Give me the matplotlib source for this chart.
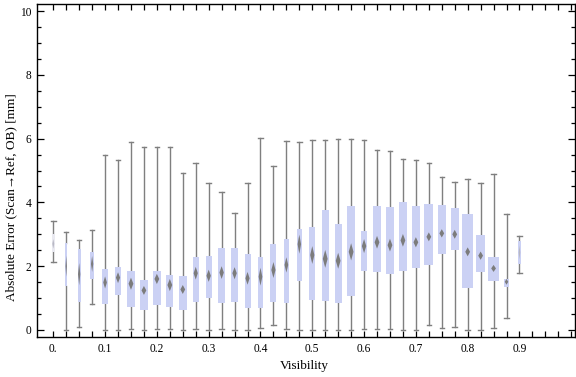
import matplotlib
matplotlib.use("Agg")
import matplotlib.pyplot as plt
import numpy as np

# ---- data ----
visibility = [0.0, 0.025, 0.05, 0.075, 0.1, 0.125, 0.15, 0.175, 0.2, 0.225,
              0.25, 0.275, 0.3, 0.325, 0.35, 0.375, 0.4, 0.425, 0.45, 0.475,
              0.5, 0.525, 0.55, 0.575, 0.6, 0.625, 0.65, 0.675, 0.7, 0.725,
              0.75, 0.775, 0.8, 0.825, 0.85, 0.875, 0.9]
whisker_lo = [2.14, 0.00, 0.08, 0.83, 0.00, 0.00, 0.02, 0.00, 0.02, 0.02,
              0.00, 0.02, 0.00, 0.02, 0.00, 0.00, 0.05, 0.15, 0.02, 0.00,
              0.00, 0.00, 0.00, 0.00, 0.02, 0.02, 0.02, 0.00, 0.00, 0.15,
              0.05, 0.08, 0.00, 0.00, 0.05, 0.37, 1.78]
q1 = [2.45, 1.39, 0.89, 1.60, 0.83, 1.11, 0.73, 0.63, 0.79, 0.73,
      0.64, 0.89, 1.01, 0.86, 0.89, 0.70, 0.70, 0.89, 0.86, 1.55,
      0.95, 0.92, 0.84, 1.08, 1.86, 1.83, 1.74, 1.86, 1.95, 2.05,
      2.39, 2.52, 1.33, 1.83, 1.55, 1.36, 2.08]
median = [2.70, 2.00, 1.75, 2.07, 1.49, 1.64, 1.45, 1.24, 1.60, 1.41,
          1.27, 1.78, 1.70, 1.80, 1.78, 1.62, 1.67, 1.88, 2.04, 2.69,
          2.35, 2.23, 2.17, 2.45, 2.63, 2.75, 2.66, 2.81, 2.75, 2.92,
          3.03, 3.00, 2.45, 2.33, 1.93, 1.51, 2.43]
q3 = [3.02, 2.72, 2.53, 2.45, 1.91, 1.97, 1.84, 1.57, 1.85, 1.72,
      1.69, 2.29, 2.32, 2.57, 2.57, 2.38, 2.29, 2.70, 2.85, 3.16,
      3.23, 3.76, 3.32, 3.89, 3.10, 3.89, 3.86, 4.01, 3.89, 3.95,
      3.92, 3.82, 3.63, 2.98, 2.29, 1.60, 2.78]
whisker_hi = [3.42, 3.08, 2.81, 3.13, 5.49, 5.32, 5.88, 5.73, 5.73, 5.73,
              4.92, 5.23, 4.61, 4.33, 3.66, 4.61, 6.01, 5.13, 5.91, 5.88,
              5.95, 5.95, 5.98, 5.98, 5.95, 5.63, 5.60, 5.35, 5.32, 5.22,
              4.79, 4.63, 4.72, 4.60, 4.88, 3.63, 2.94]
# half-height of the median confidence diamond (error units)
median_ci = [0.15, 0.33, 0.35, 0.25, 0.19, 0.17, 0.19, 0.14, 0.16, 0.19,
             0.14, 0.20, 0.19, 0.20, 0.19, 0.20, 0.28, 0.25, 0.24, 0.30,
             0.28, 0.28, 0.25, 0.27, 0.22, 0.20, 0.20, 0.20, 0.16, 0.14,
             0.13, 0.14, 0.14, 0.13, 0.11, 0.09, 0.22]
x_tick_labels = ["0.", "0.1", "0.2", "0.3", "0.4", "0.5", "0.6", "0.7", "0.8", "0.9"]
y_tick_labels = ["0", "2", "4", "6", "8", "10"]

# ---- styling ----
box_width_px = [2.7, 2.0, 3.3, 3.3, 5.3, 6.0, 7.3, 7.3, 8.0, 7.3,
                8.0, 6.0, 6.3, 6.3, 6.3, 6.0, 5.3, 6.0, 5.3, 5.0,
                6.0, 7.0, 7.0, 8.0, 6.3, 8.0, 8.0, 8.0, 8.0, 9.0,
                8.0, 8.0, 11.0, 9.0, 11.0, 5.0, 2.3]
box_color = "#cbd1f4"
line_color = "#7f7f7f"
serif = ["Liberation Serif", "DejaVu Serif"]

W, H = 576, 377
fig = plt.figure(figsize=(W / 100, H / 100), dpi=100)
ax = fig.add_axes([36.7 / W, 1 - 337 / H, (575 - 36.7) / W, (337 - 4) / H])
xlim = (-0.032, 1.0072)
ylim = (-0.22, 10.22)
ax.set_xlim(*xlim)
ax.set_ylim(*ylim)

ax_w_px = 575 - 36.7
px2x = (xlim[1] - xlim[0]) / ax_w_px

stats = []
for i in range(len(visibility)):
    stats.append(dict(med=median[i], q1=q1[i], q3=q3[i],
                      whislo=whisker_lo[i], whishi=whisker_hi[i], fliers=[]))
widths = [w * px2x for w in box_width_px]
bp = ax.bxp(stats, positions=visibility, widths=widths, patch_artist=True,
            showcaps=True, showfliers=False, capwidths=[4.5 * px2x] * len(stats),
            boxprops=dict(facecolor=box_color, edgecolor="none", linewidth=0),
            whiskerprops=dict(color=line_color, linewidth=1.0),
            capprops=dict(color=line_color, linewidth=1.0),
            medianprops=dict(linewidth=0, color="none"),
            manage_ticks=False, zorder=2)
for j, patch in enumerate(bp["boxes"]):
    if j == 0:
        patch.set_facecolor("#e9e9f0")
    patch.set_zorder(3)

# median diamonds
for i in range(len(visibility)):
    hw = min(0.35 * box_width_px[i], 2.4) * px2x
    hh = median_ci[i]
    x0, m = visibility[i], median[i]
    col = "#b8b8c4" if i in (0, 36) else "#7c7c7c"
    ax.fill([x0, x0 + hw, x0, x0 - hw], [m + hh, m, m - hh, m],
            color=col, lw=0, zorder=4)

# ticks
ax.set_xticks(np.arange(0, 0.9001, 0.1))
ax.set_xticklabels(x_tick_labels)
ax.set_xticks(np.arange(0, 1.0001, 0.025), minor=True)
ax.set_yticks(np.arange(0, 10.1, 2))
ax.set_yticklabels(y_tick_labels)
ax.set_yticks(np.arange(0, 10.1, 0.5), minor=True)
ax.tick_params(axis="both", which="both", direction="in", top=True, right=True,
               width=0.9, colors="black", labelsize=8.3, pad=4)
ax.tick_params(axis="x", which="both", length=4)
ax.tick_params(axis="y", which="major", length=5)
ax.tick_params(axis="y", which="minor", length=3)
for lab in ax.get_xticklabels() + ax.get_yticklabels():
    lab.set_family(serif)
for s in ax.spines.values():
    s.set_linewidth(1.0)

ax.set_xlabel("Visibility", family=serif, fontsize=9.5)
ax.xaxis.set_label_coords(0.497, -0.068)
ax.set_ylabel("Absolute Error (Scan\u2192Ref, OB) [mm]", family=serif, fontsize=9.5)
ax.yaxis.set_label_coords(-0.037, 0.42)

fig.savefig("out.png", dpi=100)
